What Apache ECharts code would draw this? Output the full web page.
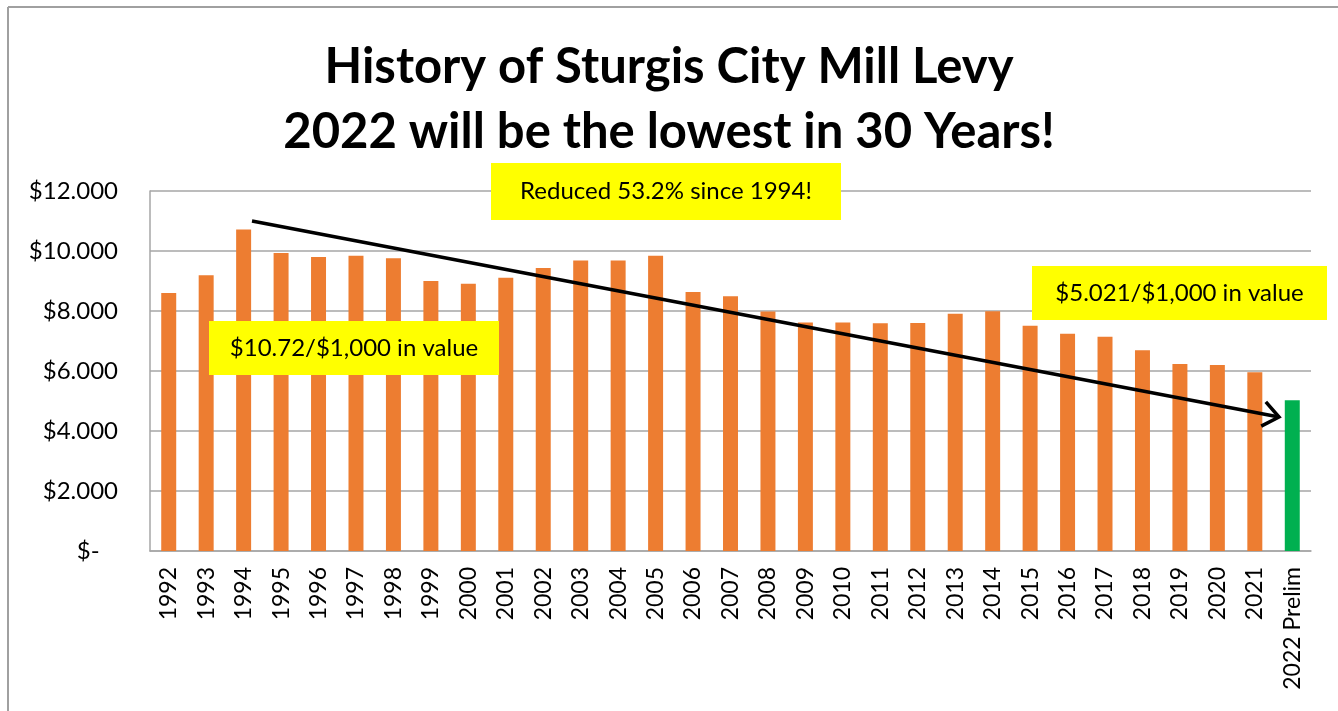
<!DOCTYPE html>
<html>
<head>
<meta charset="utf-8">
<title>History of Sturgis City Mill Levy</title>
<script src="https://cdn.jsdelivr.net/npm/echarts@6/dist/echarts.min.js"></script>
<style>
  html, body { margin: 0; padding: 0; background: #fff; }
  #chart { width: 1338px; height: 711px; }
</style>
</head>
<body>
<div id="chart"></div>
<script>
// 数据
const years = ['1992', '1993', '1994', '1995', '1996', '1997', '1998', '1999', '2000', '2001',
  '2002', '2003', '2004', '2005', '2006', '2007', '2008', '2009', '2010', '2011',
  '2012', '2013', '2014', '2015', '2016', '2017', '2018', '2019', '2020', '2021', '2022 Prelim'];
const levy = [8.60, 9.19, 10.72, 9.93, 9.80, 9.84, 9.76, 9.00, 8.91, 9.11,
  9.43, 9.68, 9.68, 9.84, 8.63, 8.49, 7.98, 7.62, 7.62, 7.59,
  7.60, 7.91, 7.99, 7.51, 7.24, 7.14, 6.69, 6.23, 6.20, 5.96, 5.021];
const yTicks = [0, 2, 4, 6, 8, 10, 12];
const titleLines = ['History of Sturgis City Mill Levy', '2022 will be the lowest in 30 Years!'];
const notes = ['Reduced 53.2% since 1994!', '$10.72/$1,000 in value', '$5.021/$1,000 in value'];

const FONT = 'Lato, "Open Sans", sans-serif';
const ORANGE = '#ED7D31';
const GREEN = '#00B050';

let chartDom = document.getElementById('chart');
let myChart = echarts.init(chartDom);

// 趋势箭头
const arrowFrom = [252, 221];
const arrowTo = [1279, 417];
function arrowHead(from, to, len, deg) {
  const a = Math.atan2(to[1] - from[1], to[0] - from[0]);
  const r = deg * Math.PI / 180;
  return [
    [to[0] - len * Math.cos(a - r), to[1] - len * Math.sin(a - r)],
    to,
    [to[0] - len * Math.cos(a + r), to[1] - len * Math.sin(a + r)]
  ];
}

// 黄色标注框
function noteBox(x, y, w, h, text, size) {
  return {
    type: 'group',
    left: x, top: y, z: 50,
    children: [
      { type: 'rect', z: 50, shape: { x: 0, y: 0, width: w, height: h }, style: { fill: '#FFFF00' } },
      {
        type: 'text', z: 51, x: w / 2, y: h / 2,
        style: { text: text, fill: '#000', font: size + 'px ' + FONT, align: 'center', verticalAlign: 'middle' }
      }
    ]
  };
}

let option = {
  backgroundColor: '#fff',
  animation: false,
  title: {
    text: titleLines.join('\n'),
    left: 'center',
    top: 30,
    textStyle: { fontFamily: FONT, fontWeight: 'bold', fontSize: 49, color: '#000', lineHeight: 65 }
  },
  grid: { left: 150, right: 27, top: 191, bottom: 160 },
  xAxis: {
    type: 'category',
    data: years,
    axisTick: { show: false },
    axisLine: { lineStyle: { color: '#a6a6a6', width: 1.5 } },
    axisLabel: { rotate: 90, margin: 16, interval: 0, fontFamily: FONT, fontSize: 23, color: '#000' }
  },
  yAxis: {
    type: 'value',
    min: 0, max: 12, interval: 2,
    axisLine: { show: true, lineStyle: { color: '#a6a6a6', width: 1.5 } },
    axisTick: { show: false },
    splitLine: { lineStyle: { color: '#a6a6a6', width: 1.5 } },
    axisLabel: {
      margin: 32, fontFamily: FONT, fontSize: 24, color: '#000',
      customValues: yTicks,
      formatter: v => v === 0 ? '$-   ' : '$' + v + '.000'
    }
  },
  series: [{
    type: 'bar',
    barWidth: '40%',
    data: levy.map((v, i) => ({
      value: v,
      itemStyle: { color: i === levy.length - 1 ? GREEN : ORANGE }
    }))
  }],
  graphic: [
    { type: 'line', shape: { x1: 8, y1: 7, x2: 1338, y2: 7 }, style: { stroke: '#a0a0a0', lineWidth: 2 } },
    { type: 'line', shape: { x1: 8, y1: 7, x2: 8, y2: 711 }, style: { stroke: '#a0a0a0', lineWidth: 2 } },
    noteBox(491, 163, 350, 57, notes[0], 24),
    noteBox(209, 321, 290, 54, notes[1], 24),
    noteBox(1032, 266, 295, 54, notes[2], 24),
    {
      type: 'line', z: 100,
      shape: { x1: arrowFrom[0], y1: arrowFrom[1], x2: arrowTo[0], y2: arrowTo[1] },
      style: { stroke: '#000', lineWidth: 3.5 }
    },
    {
      type: 'polyline', z: 100,
      shape: { points: arrowHead(arrowFrom, arrowTo, 20, 38) },
      style: { stroke: '#000', lineWidth: 3.5, fill: null }
    }
  ]
};

option && myChart.setOption(option);
</script>
</body>
</html>
